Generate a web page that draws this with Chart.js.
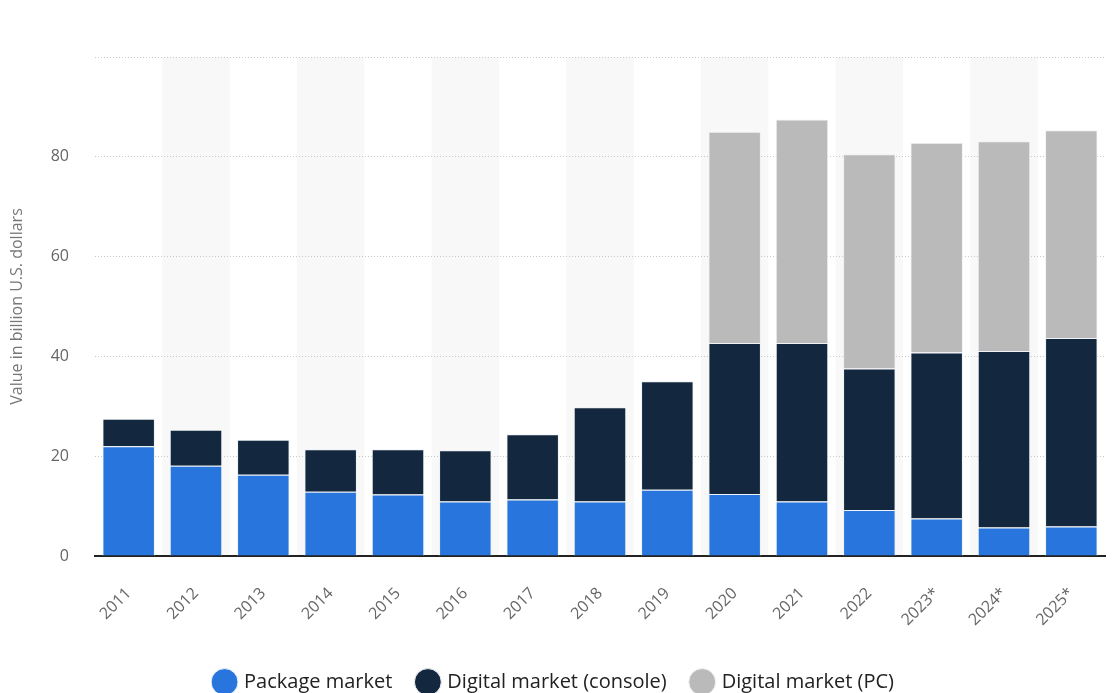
<!DOCTYPE html>
<html>
<head>
<meta charset="utf-8">
<script src="https://cdn.jsdelivr.net/npm/chart.js@4"></script>
<style>
  body { margin: 0; background: #fff; }
  #wrap { width: 1112px; height: 693px; }
</style>
</head>
<body>
<div id="wrap"><canvas id="barChart" width="1112" height="693"></canvas></div>
<script>
// 데이터
const years = ["2011", "2012", "2013", "2014", "2015", "2016", "2017", "2018", "2019", "2020", "2021", "2022", "2023*", "2024*", "2025*"];
const packageMarket = [22.0, 18.1, 16.3, 12.9, 12.3, 10.9, 11.3, 10.9, 13.3, 12.4, 10.9, 9.2, 7.5, 5.7, 5.9];
const digitalConsole = [5.5, 7.2, 7.0, 8.5, 9.1, 10.3, 13.1, 18.9, 21.7, 30.3, 31.8, 28.4, 33.3, 35.4, 37.8];
const digitalPC = [0, 0, 0, 0, 0, 0, 0, 0, 0, 42.3, 44.8, 42.9, 42.0, 42.0, 41.6];
const yTicks = [0, 20, 40, 60, 80, 100];

// 짝수 번째 칼럼 배경 줄무늬
const bandPlugin = {
  id: 'bands',
  beforeDraw(chart) {
    const { ctx, chartArea, scales: { x } } = chart;
    const step = (chartArea.right - chartArea.left) / years.length;
    ctx.save();
    ctx.fillStyle = '#f8f8f8';
    years.forEach((y, i) => {
      if (i % 2 === 1) {
        const cx = x.getPixelForValue(i);
        ctx.fillRect(cx - step / 2, chartArea.top, step, chartArea.bottom - chartArea.top);
      }
    });
    ctx.restore();
  }
};

new Chart(document.getElementById("barChart"), {
  type: 'bar',
  data: {
    labels: years,
    datasets: [
      { label: 'Package market', data: packageMarket, backgroundColor: '#2876dd' },
      { label: 'Digital market (console)', data: digitalConsole, backgroundColor: '#13283f' },
      { label: 'Digital market (PC)', data: digitalPC, backgroundColor: '#bababa' }
    ].map(d => Object.assign(d, {
      borderColor: '#eef2f6',
      borderWidth: 1,
      barPercentage: 0.78,
      categoryPercentage: 1
    }))
  },
  options: {
    responsive: false,
    animation: false,
    layout: { padding: { top: 57, right: 7, left: 4, bottom: -9 } },
    plugins: {
      legend: {
        position: 'bottom',
        labels: {
          usePointStyle: true,
          pointStyle: 'circle',
          boxWidth: 19,
          boxHeight: 19,
          padding: 26,
          color: '#222',
          font: { size: 20, family: 'Open Sans' }
        }
      },
      tooltip: { enabled: false }
    },
    scales: {
      x: {
        stacked: true,
        grid: { display: false },
        border: { display: true, color: '#222', width: 2 },
        ticks: {
          color: '#666',
          maxRotation: 45,
          minRotation: 45,
          padding: 20,
          font: { size: 16, family: 'Open Sans' }
        },
        afterFit(scale) { scale.height = 90; }
      },
      y: {
        stacked: true,
        min: 0,
        max: 100,
        afterBuildTicks(scale) { scale.ticks = yTicks.map(v => ({ value: v })); },
        grid: { color: '#c8c8c8', drawTicks: false },
        border: { display: false, dash: [1, 2] },
        ticks: {
          color: '#666',
          padding: 26,
          font: { size: 16, family: 'Open Sans' },
          callback: (v) => v === 100 ? '' : v
        },
        title: {
          display: true,
          text: 'Value in billion U.S. dollars',
          color: '#777',
          font: { size: 16, family: 'Open Sans' }
        },
        afterFit(scale) { scale.width = 91; }
      }
    }
  },
  plugins: [bandPlugin]
});
</script>
</body>
</html>
